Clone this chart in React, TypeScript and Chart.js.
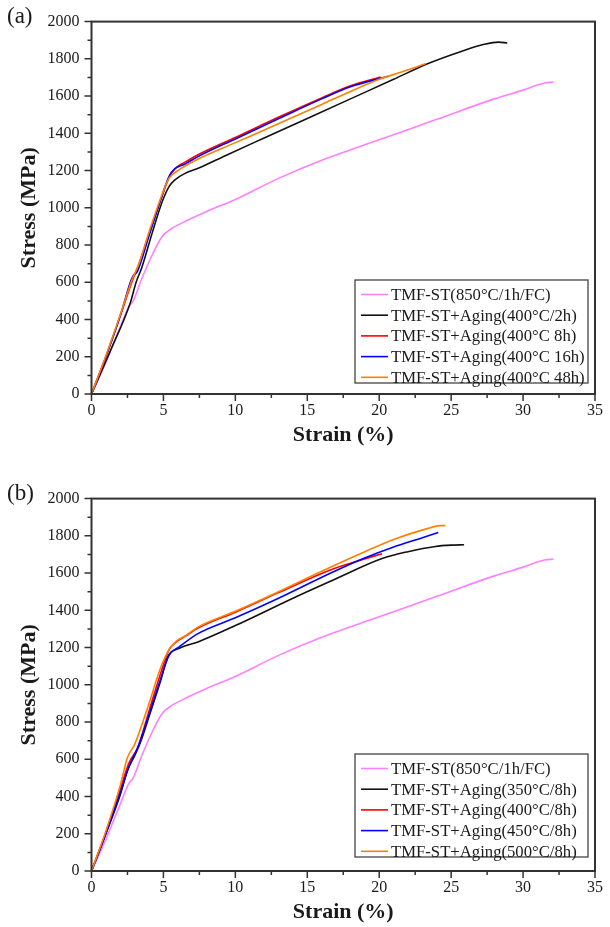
import React, { useEffect, useRef } from "react";
import { Chart, registerables } from "chart.js";

Chart.register(...registerables);

// ---------- data (strain %, stress MPa) ----------
const stST: [number, number][] = [
  [0, 0], [1, 170], [2, 360], [2.6, 470], [2.9, 500], [3.5, 620], [4.3, 760], [4.9, 845],
  [5.5, 885], [6.2, 915], [8, 980], [10, 1045], [13, 1158], [16, 1255], [20, 1365],
  [24, 1475], [28, 1585], [30, 1632], [31.5, 1670], [32.1, 1675],
];

// panel (a)
const a400_2h: [number, number][] = [
  [0, 0], [1.3, 230], [2.7, 490], [3.1, 600], [3.5, 680], [4.2, 860], [4.9, 1030],
  [5.4, 1115], [5.8, 1150], [6.5, 1185], [7.5, 1215], [9.3, 1280], [12, 1375], [15, 1480],
  [18, 1585], [21, 1690], [23.4, 1775], [25.7, 1840], [27.3, 1878], [28.3, 1890], [28.9, 1885],
];
const a400_8h: [number, number][] = [
  [0, 0], [1, 200], [2, 420], [2.8, 600], [3.3, 700], [4, 860], [4.8, 1040], [5.4, 1165],
  [5.8, 1210], [6.5, 1245], [7.4, 1285], [10, 1378], [13.1, 1490], [16, 1590], [18, 1655],
  [20.1, 1702],
];
const a400_16h: [number, number][] = [
  [0, 0], [1, 200], [2, 420], [2.7, 600], [2.9, 635], [3.2, 660], [4, 850], [4.8, 1040],
  [5.4, 1170], [5.8, 1210], [6.5, 1235], [7.4, 1275], [10, 1370], [13.1, 1482], [16, 1585],
  [18, 1650], [20.6, 1706],
];
const a400_48h: [number, number][] = [
  [0, 0], [1, 205], [2, 425], [2.8, 610], [3.3, 700], [4, 870], [4.8, 1050], [5.4, 1160],
  [6, 1200], [7.4, 1262], [10, 1350], [13.1, 1455], [16, 1555], [18, 1625], [20, 1690],
  [21.5, 1728], [23.2, 1773],
];

// panel (b)
const b350_8h: [number, number][] = [
  [0, 0], [1, 200], [2, 410], [2.5, 540], [3.0, 620], [3.4, 690], [4, 830], [4.8, 1020],
  [5.3, 1150], [6.1, 1196], [7.4, 1230], [10, 1318], [14.3, 1476], [17, 1570], [20.2, 1678],
  [22, 1715], [23.9, 1743], [25, 1750], [25.9, 1752],
];
const b400_8h: [number, number][] = [
  [0, 0], [1, 205], [2, 440], [2.6, 580], [3.2, 660], [4, 860], [4.8, 1060], [5.4, 1190],
  [5.9, 1230], [6.5, 1260], [7.4, 1305], [10, 1390], [13, 1495], [16.6, 1617], [18.5, 1665],
  [20.2, 1704],
];
const b450_8h: [number, number][] = [
  [0, 0], [1, 200], [2, 420], [2.6, 560], [3.2, 660], [4, 840], [4.8, 1030], [5.4, 1160],
  [6.1, 1204], [7.4, 1275], [10, 1360], [13, 1465], [16.6, 1599], [18.9, 1678], [21, 1740],
  [23, 1790], [24.1, 1818],
];
const b500_8h: [number, number][] = [
  [0, 0], [1, 215], [2, 460], [2.5, 610], [3, 680], [4, 900], [4.8, 1090], [5.4, 1190],
  [5.9, 1235], [6.5, 1262], [7.4, 1310], [10, 1395], [13, 1500], [16, 1610], [19, 1715],
  [21.1, 1783], [23.4, 1840], [24.2, 1855], [24.6, 1855],
];

const labelsA = [
  "TMF-ST(850°C/1h/FC)",
  "TMF-ST+Aging(400°C/2h)",
  "TMF-ST+Aging(400°C 8h)",
  "TMF-ST+Aging(400°C 16h)",
  "TMF-ST+Aging(400°C 48h)",
];
const labelsB = [
  "TMF-ST(850°C/1h/FC)",
  "TMF-ST+Aging(350°C/8h)",
  "TMF-ST+Aging(400°C/8h)",
  "TMF-ST+Aging(450°C/8h)",
  "TMF-ST+Aging(500°C/8h)",
];
const colors = ["#FF80FF", "#111111", "#FF0000", "#0000FF", "#FF8000"];

const xMin = 0, xMax = 35, xStep = 2.5, xMajor = 5;
const yMin = 0, yMax = 2000, yStep = 100, yMajor = 200;

const FONT = "'Liberation Serif', 'Times New Roman', serif";
const AXIS = "#333333";

const toXY = (arr: [number, number][]) => arr.map(([x, y]) => ({ x, y }));

const decorPlugin = {
  id: "decor",
  afterDraw(chart: any, _args: any, opts: any) {
    const { ctx, chartArea, scales } = chart;
    const { left, right, top, bottom } = chartArea;
    const xs = scales.x, ys = scales.y;
    ctx.save();
    // ticks
    ctx.strokeStyle = AXIS;
    ctx.lineWidth = 1.5;
    ctx.beginPath();
    xs.ticks.forEach((t: any) => {
      const px = xs.getPixelForValue(t.value);
      const len = Math.abs(t.value % xMajor) < 1e-6 ? 7 : 4;
      ctx.moveTo(px, bottom);
      ctx.lineTo(px, bottom + len);
    });
    ys.ticks.forEach((t: any) => {
      const py = ys.getPixelForValue(t.value);
      const len = Math.abs(t.value % yMajor) < 1e-6 ? 7 : 4;
      ctx.moveTo(left, py);
      ctx.lineTo(left - len, py);
    });
    ctx.stroke();
    // frame
    ctx.lineWidth = 2;
    ctx.strokeRect(left, top, right - left, bottom - top);

    // legend
    const lg = opts.legend;
    const ds = chart.data.datasets;
    ctx.fillStyle = "#ffffff";
    ctx.fillRect(lg.x, lg.y, lg.w, lg.h);
    ctx.strokeStyle = "#444444";
    ctx.lineWidth = 1.3;
    ctx.strokeRect(lg.x, lg.y, lg.w, lg.h);
    ctx.font = `16.7px ${FONT}`;
    ctx.textBaseline = "middle";
    ctx.textAlign = "left";
    ds.forEach((d: any, i: number) => {
      const ry = lg.y + lg.first + i * lg.gap;
      ctx.strokeStyle = d.borderColor;
      ctx.lineWidth = 1.6;
      ctx.beginPath();
      ctx.moveTo(lg.x + 6, ry);
      ctx.lineTo(lg.x + 33, ry);
      ctx.stroke();
      ctx.fillStyle = "#1a1a1a";
      ctx.fillText(d.label, lg.x + 36, ry + 1);
    });

    // panel tag
    ctx.font = `23px ${FONT}`;
    ctx.fillStyle = "#1a1a1a";
    ctx.textBaseline = "middle";
    ctx.fillText(opts.tag, 7, opts.tagY);
    ctx.restore();
  },
};

function Panel(props: {
  top: number;
  height: number;
  series: [number, number][][];
  labels: string[];
  tag: string;
  tagY: number;
  legendY: number;
}) {
  const ref = useRef<HTMLCanvasElement | null>(null);
  useEffect(() => {
    if (!ref.current) return;
    const plotTop = 13;
    const plotBottom = 394;
    const xAxisH = 52;
    const padBottom = props.height - plotBottom - xAxisH;
    const chart = new Chart(ref.current, {
      type: "line",
      data: {
        datasets: props.series.map((s, i) => ({
          label: props.labels[i],
          data: toXY(s),
          borderColor: colors[i],
          backgroundColor: colors[i],
          borderWidth: 1.6,
          pointRadius: 0,
          fill: false,
          cubicInterpolationMode: "monotone" as const,
          order: props.series.length - i,
        })),
      },
      options: {
        responsive: false,
        animation: false,
        parsing: false as any,
        layout: { padding: { left: 0, right: 8, top: plotTop, bottom: padBottom } },
        plugins: {
          legend: { display: false },
          tooltip: { enabled: false },
          decor: {
            tag: props.tag,
            tagY: props.tagY,
            legend: { x: 355, y: props.legendY, w: 233, h: 103, first: 14.5, gap: 20.7 },
          },
        } as any,
        scales: {
          x: {
            type: "linear",
            position: "bottom",
            min: xMin,
            max: xMax,
            afterFit: (s: any) => { s.height = xAxisH; },
            afterBuildTicks: (s: any) => {
              const t = [];
              for (let v = xMin; v <= xMax + 1e-9; v += xStep) t.push({ value: v });
              s.ticks = t;
            },
            ticks: {
              autoSkip: false,
              maxRotation: 0,
              padding: 7,
              color: "#1a1a1a",
              font: { family: FONT, size: 16 },
              callback: (v: any) => (Math.abs(Number(v) % xMajor) < 1e-6 ? String(v) : ""),
            },
            grid: { display: false, drawTicks: false },
            border: { display: false },
            title: {
              display: true,
              text: "Strain (%)",
              color: "#1a1a1a",
              font: { family: FONT, size: 22, weight: "bold", lineHeight: 1 },
              padding: 0,
            },
          },
          y: {
            type: "linear",
            min: yMin,
            max: yMax,
            afterFit: (s: any) => { s.width = 91.5; },
            afterBuildTicks: (s: any) => {
              const t = [];
              for (let v = yMin; v <= yMax + 1e-9; v += yStep) t.push({ value: v });
              s.ticks = t;
            },
            ticks: {
              autoSkip: false,
              padding: 12,
              color: "#1a1a1a",
              font: { family: FONT, size: 16 },
              callback: (v: any) => (Math.abs(Number(v) % yMajor) < 1e-6 ? String(v) : ""),
            },
            grid: { display: false, drawTicks: false },
            border: { display: false },
            title: {
              display: true,
              text: "Stress (MPa)",
              color: "#1a1a1a",
              font: { family: FONT, size: 22, weight: "bold", lineHeight: 1 },
              padding: { top: 18, bottom: 0 },
            },
          },
        },
      },
      plugins: [decorPlugin],
    });
    return () => chart.destroy();
  }, []);
  return (
    <canvas
      ref={ref}
      width={610}
      height={props.height}
      style={{ position: "absolute", left: 0, top: props.top, width: 610, height: props.height }}
    />
  );
}

export default function App() {
  return (
    <div style={{ position: "absolute", left: 0, top: 0, width: 610, height: 927, background: "#fff" }}>
      <Panel
        top={0}
        height={477}
        series={[stST, a400_2h, a400_8h, a400_16h, a400_48h]}
        labels={labelsA}
        tag="(a)"
        tagY={17}
        legendY={280}
      />
      <Panel
        top={477}
        height={450}
        series={[stST, b350_8h, b400_8h, b450_8h, b500_8h]}
        labels={labelsB}
        tag="(b)"
        tagY={17}
        legendY={277}
      />
    </div>
  );
}
